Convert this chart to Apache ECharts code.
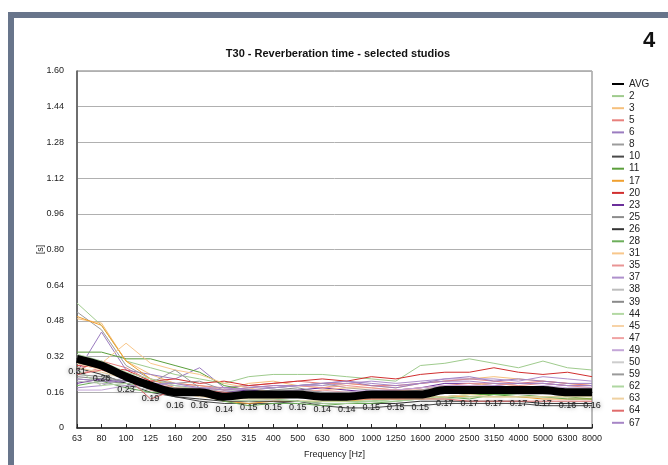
<!DOCTYPE html>
<html><head><meta charset="utf-8">
<script src="https://cdn.jsdelivr.net/npm/echarts@6/dist/echarts.min.js"></script>
<style>html,body{margin:0;padding:0;background:#fff}#c{width:668px;height:465px}</style>
</head><body><div id="c"></div>
<script>
var categories = ['63','80','100','125','160','200','250','315','400','500','630','800','1000','1250','1600','2000','2500','3150','4000','5000','6300','8000'];
var yTicks = [0,0.16,0.32,0.48,0.64,0.80,0.96,1.12,1.28,1.44,1.60];
var avg = [0.31,0.28,0.23,0.19,0.16,0.16,0.14,0.15,0.15,0.15,0.14,0.14,0.15,0.15,0.15,0.17,0.17,0.17,0.17,0.17,0.16,0.16];
var studioNames = ['2','3','5','6','8','10','11','17','20','23','25','26','28','31','35','37','38','39','44','45','47','49','50','59','62','63','64','67'];
var s2  = [0.56,0.46,0.30,0.27,0.24,0.22,0.20,0.23,0.24,0.24,0.24,0.23,0.22,0.21,0.28,0.29,0.31,0.29,0.27,0.30,0.27,0.26];
var s3  = [0.49,0.47,0.30,0.24,0.20,0.19,0.17,0.20,0.21,0.19,0.18,0.20,0.19,0.18,0.20,0.21,0.22,0.23,0.22,0.21,0.20,0.19];
var s5  = [0.26,0.30,0.27,0.21,0.20,0.19,0.18,0.19,0.20,0.21,0.20,0.20,0.19,0.19,0.20,0.21,0.22,0.21,0.20,0.21,0.20,0.19];
var s6  = [0.25,0.43,0.26,0.24,0.22,0.27,0.18,0.19,0.18,0.19,0.20,0.21,0.19,0.18,0.20,0.22,0.23,0.21,0.22,0.21,0.20,0.20];
var s8  = [0.52,0.44,0.28,0.22,0.20,0.21,0.17,0.17,0.18,0.19,0.20,0.18,0.17,0.16,0.17,0.19,0.19,0.18,0.18,0.17,0.17,0.17];
var s10 = [0.29,0.27,0.22,0.17,0.14,0.12,0.11,0.11,0.11,0.12,0.10,0.09,0.09,0.10,0.10,0.11,0.11,0.11,0.11,0.10,0.10,0.10];
var s11 = [0.34,0.34,0.31,0.31,0.28,0.25,0.19,0.17,0.16,0.15,0.13,0.12,0.12,0.13,0.14,0.14,0.15,0.15,0.14,0.14,0.14,0.13];
var s17 = [0.50,0.46,0.30,0.22,0.18,0.15,0.12,0.11,0.12,0.12,0.12,0.12,0.13,0.13,0.13,0.14,0.14,0.14,0.14,0.13,0.13,0.13];
var s20 = [0.28,0.27,0.26,0.21,0.22,0.20,0.21,0.19,0.20,0.21,0.22,0.21,0.23,0.22,0.24,0.25,0.25,0.27,0.25,0.24,0.25,0.23];
var s23 = [0.20,0.22,0.20,0.18,0.17,0.17,0.16,0.17,0.16,0.17,0.18,0.17,0.16,0.17,0.18,0.20,0.20,0.19,0.20,0.20,0.19,0.19];
var s25 = [0.22,0.21,0.20,0.18,0.17,0.16,0.15,0.16,0.17,0.18,0.16,0.15,0.14,0.15,0.16,0.17,0.17,0.17,0.16,0.16,0.16,0.15];
var s26 = [0.27,0.24,0.20,0.16,0.14,0.13,0.12,0.12,0.12,0.12,0.11,0.11,0.11,0.11,0.12,0.12,0.12,0.12,0.12,0.11,0.11,0.11];
var s28 = [0.19,0.21,0.18,0.16,0.16,0.15,0.12,0.10,0.11,0.11,0.10,0.11,0.11,0.12,0.13,0.14,0.13,0.15,0.15,0.14,0.13,0.13];
var s31 = [0.30,0.29,0.38,0.29,0.26,0.24,0.20,0.18,0.16,0.16,0.17,0.18,0.18,0.17,0.17,0.18,0.19,0.20,0.19,0.18,0.17,0.17];
var s35 = [0.24,0.27,0.24,0.20,0.18,0.18,0.17,0.18,0.19,0.19,0.18,0.19,0.18,0.17,0.18,0.19,0.20,0.20,0.19,0.20,0.19,0.18];
var s37 = [0.18,0.19,0.23,0.20,0.19,0.18,0.18,0.17,0.18,0.19,0.19,0.20,0.21,0.20,0.21,0.22,0.22,0.22,0.21,0.23,0.22,0.21];
var s38 = [0.21,0.20,0.19,0.17,0.16,0.15,0.14,0.14,0.15,0.16,0.15,0.14,0.14,0.14,0.15,0.16,0.16,0.16,0.15,0.15,0.15,0.15];
var s39 = [0.23,0.22,0.21,0.19,0.18,0.17,0.16,0.15,0.16,0.15,0.15,0.16,0.15,0.15,0.16,0.17,0.18,0.18,0.17,0.17,0.16,0.16];
var s44 = [0.26,0.19,0.20,0.18,0.17,0.15,0.13,0.12,0.13,0.12,0.12,0.12,0.12,0.13,0.13,0.14,0.15,0.16,0.16,0.16,0.15,0.15];
var s45 = [0.29,0.26,0.22,0.19,0.17,0.16,0.15,0.14,0.14,0.15,0.15,0.14,0.15,0.15,0.16,0.17,0.17,0.18,0.17,0.17,0.17,0.16];
var s47 = [0.31,0.28,0.25,0.17,0.15,0.16,0.15,0.15,0.16,0.16,0.17,0.16,0.16,0.17,0.17,0.18,0.18,0.18,0.17,0.18,0.17,0.17];
var s49 = [0.17,0.17,0.19,0.19,0.17,0.16,0.15,0.15,0.16,0.17,0.16,0.16,0.17,0.17,0.18,0.19,0.19,0.19,0.18,0.19,0.18,0.18];
var s50 = [0.33,0.30,0.24,0.20,0.20,0.18,0.16,0.16,0.15,0.15,0.16,0.15,0.15,0.15,0.16,0.16,0.17,0.17,0.16,0.16,0.16,0.16];
var s59 = [0.24,0.23,0.21,0.20,0.26,0.18,0.16,0.16,0.17,0.17,0.16,0.16,0.16,0.16,0.17,0.18,0.18,0.17,0.17,0.16,0.16,0.15];
var s62 = [0.33,0.30,0.25,0.22,0.19,0.17,0.15,0.13,0.13,0.12,0.11,0.11,0.12,0.12,0.13,0.13,0.14,0.14,0.14,0.14,0.14,0.14];
var s63 = [0.27,0.25,0.22,0.19,0.16,0.14,0.13,0.13,0.13,0.14,0.13,0.13,0.13,0.13,0.14,0.14,0.15,0.14,0.14,0.14,0.14,0.14];
var s64 = [0.24,0.26,0.23,0.13,0.17,0.17,0.16,0.15,0.16,0.15,0.14,0.13,0.13,0.13,0.13,0.13,0.12,0.12,0.12,0.12,0.12,0.12];
var s67 = [0.22,0.21,0.21,0.20,0.20,0.18,0.17,0.18,0.19,0.19,0.20,0.21,0.20,0.19,0.20,0.21,0.21,0.20,0.20,0.20,0.19,0.19];
var studioValues = [s2,s3,s5,s6,s8,s10,s11,s17,s20,s23,s25,s26,s28,s31,s35,s37,s38,s39,s44,s45,s47,s49,s50,s59,s62,s63,s64,s67];
var studioColors = ['#9fcb8d','#f6c07c','#e8807c','#9b7cc0','#9c9c9c','#4a4a4a','#5b9f3b','#f0a030','#d12f2f','#6b2f9b','#8c8c8c','#333333','#6cae5a','#f8c78b','#e99494','#ae90cc','#bdbdbd','#8a8a8a','#b3d9a3','#f7d3a7','#f0a3a3','#c4a6d8','#cdcdcd','#9a9a9a','#afd7a1','#efd1a1','#e06b6b','#a685c6'];

var FONT = '"Liberation Sans", Arial, Helvetica, sans-serif';
var series = [];
var legendData = [{name:'AVG', icon:'rect', itemStyle:{color:'#000'}}];
studioNames.forEach(function(n,i){
  series.push({name:n,type:'line',data:studioValues[i],symbol:'none',z:2,
    lineStyle:{width:1,color:studioColors[i]},itemStyle:{color:studioColors[i]},emphasis:{disabled:true}});
  legendData.push({name:n,icon:'rect',itemStyle:{color:studioColors[i]}});
});
series.push({name:'AVG',type:'line',data:avg,symbol:'circle',symbolSize:1,showSymbol:true,smooth:0.3,z:5,
  lineStyle:{width:8,color:'#000'},itemStyle:{color:'#000'},emphasis:{disabled:true},
  label:{show:true,position:'bottom',distance:8,fontSize:9,fontFamily:FONT,color:'#222',
    textShadowColor:'rgba(0,0,0,0.5)',textShadowBlur:4,
    formatter:function(p){return p.value.toFixed(2);}}});

var chart = echarts.init(document.getElementById('c'),null,{renderer:'canvas'});
chart.setOption({
  animation:false,
  backgroundColor:'#fff',
  title:{text:'T30 - Reverberation time - selected studios',left:333,top:43,textAlign:'center',
    textStyle:{fontSize:11,fontWeight:'bold',fontFamily:FONT,color:'#111'}},
  graphic:[
    {type:'rect',shape:{x:8,y:12,width:660,height:6},style:{fill:'#68758b'},silent:true},
    {type:'rect',shape:{x:8,y:12,width:6,height:453},style:{fill:'#68758b'},silent:true},
    {type:'text',left:643,top:30,style:{text:'4',fontSize:22,fontWeight:'bold',fontFamily:FONT,fill:'#111'}}
  ],
  legend:{orient:'vertical',left:612,top:79,padding:0,itemWidth:12,itemHeight:2,itemGap:2.1,
    textStyle:{fontSize:10,lineHeight:10,fontFamily:FONT,color:'#222'},data:legendData,selectedMode:false},
  grid:{left:77,right:76,top:71,bottom:37,show:true,borderColor:'#777',borderWidth:1,containLabel:false},
  xAxis:{type:'category',data:categories,boundaryGap:false,
    name:'Frequency [Hz]',nameLocation:'middle',nameGap:22,
    nameTextStyle:{fontSize:9,fontFamily:FONT,color:'#222'},
    axisLine:{show:true,lineStyle:{color:'#222',width:1.5}},
    axisTick:{show:true,inside:true,length:4,alignWithLabel:true,lineStyle:{color:'#222'}},
    axisLabel:{interval:0,fontSize:9,fontFamily:FONT,color:'#222',margin:6},
    splitLine:{show:false}},
  yAxis:{type:'value',min:0,max:1.6,interval:0.16,
    name:'[s]',nameLocation:'middle',nameGap:32,nameRotate:90,nameMoveOverlap:false,
    nameTextStyle:{fontSize:9,fontFamily:FONT,color:'#222'},
    axisLine:{show:true,lineStyle:{color:'#555',width:1.5}},
    axisTick:{show:false},
    axisLabel:{fontSize:9,fontFamily:FONT,color:'#222',margin:13,
      formatter:function(v){var t=yTicks.reduce(function(a,b){return Math.abs(b-v)<Math.abs(a-v)?b:a;});return t===0?'0':t.toFixed(2);}},
    splitLine:{show:true,lineStyle:{color:'#b0b0b0',width:1}}},
  series:series
});
</script></body></html>
